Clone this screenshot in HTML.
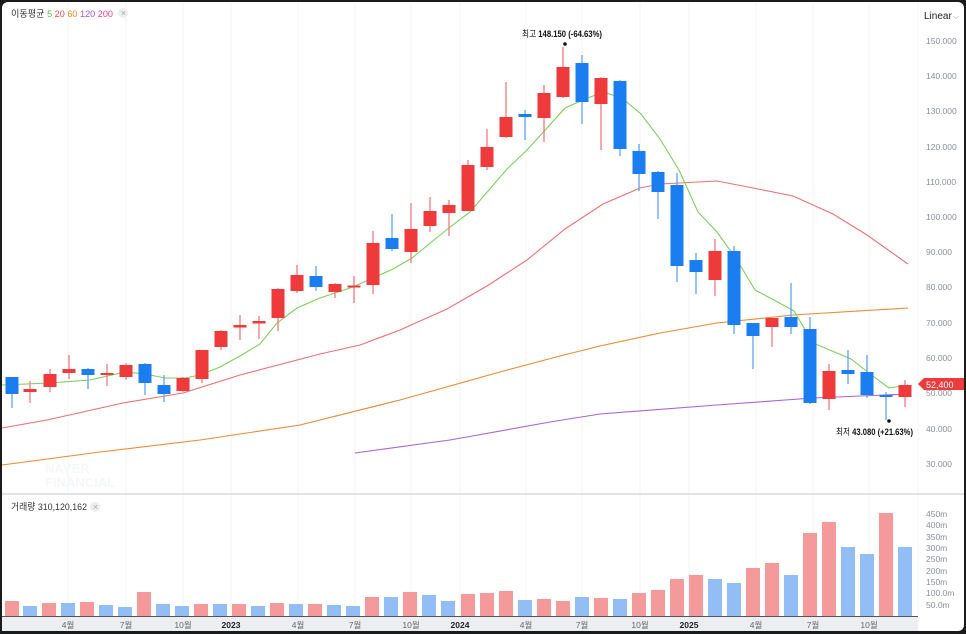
<!DOCTYPE html>
<html><head><meta charset="utf-8"><style>
html,body{margin:0;padding:0;background:#1b1b1b;width:966px;height:634px;overflow:hidden}
svg{display:block}
text{font-family:"Liberation Sans","Noto Sans CJK KR",sans-serif}
</style></head><body>
<svg width="966" height="634" viewBox="0 0 966 634" xmlns="http://www.w3.org/2000/svg">
<rect x="2" y="2" width="962" height="629" rx="6" fill="#fff"/>
<rect x="2" y="617" width="916" height="14" fill="#eceef1"/>
<g stroke="#f2f3f5" stroke-width="1">
<line x1="68" y1="2" x2="68" y2="617"/><line x1="126" y1="2" x2="126" y2="617"/><line x1="183" y1="2" x2="183" y2="617"/><line x1="231" y1="2" x2="231" y2="617"/><line x1="298" y1="2" x2="298" y2="617"/><line x1="355" y1="2" x2="355" y2="617"/><line x1="411" y1="2" x2="411" y2="617"/><line x1="460" y1="2" x2="460" y2="617"/><line x1="526" y1="2" x2="526" y2="617"/><line x1="582" y1="2" x2="582" y2="617"/><line x1="640" y1="2" x2="640" y2="617"/><line x1="689" y1="2" x2="689" y2="617"/><line x1="756" y1="2" x2="756" y2="617"/><line x1="813" y1="2" x2="813" y2="617"/><line x1="869" y1="2" x2="869" y2="617"/>
<line x1="918" y1="2" x2="918" y2="631"/>
</g>
<line x1="2" y1="494" x2="964" y2="494" stroke="#d8dadf" stroke-width="1.5"/>
<line x1="2" y1="616.5" x2="918" y2="616.5" stroke="#555" stroke-width="1"/>
<text x="45" y="473" font-size="13" font-weight="bold" fill="#f6f7f8">NAVER</text>
<text x="45" y="487" font-size="13" font-weight="bold" fill="#f6f7f8">FINANCIAL</text>
<!-- legend -->
<text x="11" y="17" font-size="9.5" fill="#333" textLength="102" lengthAdjust="spacingAndGlyphs">이동평균 <tspan fill="#5cbf3a">5</tspan> <tspan fill="#ef4a4a">20</tspan> <tspan fill="#f08a20">60</tspan> <tspan fill="#9a5ad8">120</tspan> <tspan fill="#e8407a">200</tspan></text>
<circle cx="123" cy="13" r="5" fill="#eee"/><text x="120.5" y="15.5" font-size="7" fill="#aaa">✕</text>
<text x="924" y="19" font-size="10" fill="#222">Linear</text><text x="953" y="19" font-size="8" fill="#999">⌵</text>
<text x="11" y="510" font-size="9.5" fill="#333" textLength="76" lengthAdjust="spacingAndGlyphs">거래량 310,120,162</text>
<circle cx="95" cy="507" r="5" fill="#eee"/><text x="92.5" y="509.5" font-size="7" fill="#aaa">✕</text>
<!-- axis labels -->
<g font-size="8.5" fill="#8a8f99">
<text x="926" y="44">150.000</text><text x="926" y="79">140.000</text><text x="926" y="114">130.000</text><text x="926" y="150">120.000</text><text x="926" y="185">110.000</text><text x="926" y="220">100.000</text><text x="926" y="255">90.000</text><text x="926" y="290">80.000</text><text x="926" y="326">70.000</text><text x="926" y="361">60.000</text><text x="926" y="396">50.000</text><text x="926" y="432">40.000</text><text x="926" y="467">30.000</text>
<text x="926" y="517">450m</text><text x="926" y="528">400m</text><text x="926" y="540">350m</text><text x="926" y="551">300m</text><text x="926" y="562">250m</text><text x="926" y="574">200m</text><text x="926" y="585">150m</text><text x="926" y="596">100.0m</text><text x="926" y="608">50.0m</text>
</g>
<g font-size="8.5" fill="#666" text-anchor="middle">
<text x="68" y="628">4월</text><text x="126" y="628">7월</text><text x="183" y="628">10월</text><text x="231" y="628" fill="#222" font-weight="bold">2023</text><text x="298" y="628">4월</text><text x="355" y="628">7월</text><text x="411" y="628">10월</text><text x="460" y="628" fill="#222" font-weight="bold">2024</text><text x="526" y="628">4월</text><text x="582" y="628">7월</text><text x="640" y="628">10월</text><text x="689" y="628" fill="#222" font-weight="bold">2025</text><text x="756" y="628">4월</text><text x="813" y="628">7월</text><text x="869" y="628">10월</text>
</g>
<!-- volume -->
<g fill="#f49a9a">
<rect x="5" y="601" width="14" height="15"/><rect x="42" y="603" width="14" height="13"/><rect x="80" y="602" width="14" height="14"/><rect x="137" y="592" width="14" height="24"/><rect x="194" y="604" width="14" height="12"/><rect x="232" y="604" width="14" height="12"/><rect x="270" y="603" width="14" height="13"/><rect x="308" y="604" width="14" height="12"/><rect x="365" y="597" width="14" height="19"/><rect x="403" y="592" width="14" height="24"/><rect x="461" y="594" width="14" height="22"/><rect x="480" y="593" width="14" height="23"/><rect x="499" y="591" width="14" height="25"/><rect x="537" y="599" width="14" height="17"/><rect x="556" y="601" width="14" height="15"/><rect x="594" y="598" width="14" height="18"/><rect x="632" y="593" width="14" height="23"/><rect x="651" y="590" width="14" height="26"/><rect x="670" y="579" width="14" height="37"/><rect x="689" y="575" width="14" height="41"/><rect x="746" y="568" width="14" height="48"/><rect x="765" y="563" width="14" height="53"/><rect x="803" y="533" width="14" height="83"/><rect x="822" y="522" width="14" height="94"/><rect x="879" y="513" width="14" height="103"/>
</g>
<g fill="#93bdf5">
<rect x="23" y="606" width="14" height="10"/><rect x="61" y="603" width="14" height="13"/><rect x="99" y="605" width="14" height="11"/><rect x="118" y="607" width="14" height="9"/><rect x="156" y="604" width="14" height="12"/><rect x="175" y="606" width="14" height="10"/><rect x="213" y="604" width="14" height="12"/><rect x="251" y="606" width="14" height="10"/><rect x="289" y="604" width="14" height="12"/><rect x="327" y="605" width="14" height="11"/><rect x="346" y="606" width="14" height="10"/><rect x="384" y="597" width="14" height="19"/><rect x="422" y="595" width="14" height="21"/><rect x="441" y="601" width="14" height="15"/><rect x="518" y="600" width="14" height="16"/><rect x="575" y="597" width="14" height="19"/><rect x="613" y="599" width="14" height="17"/><rect x="708" y="579" width="14" height="37"/><rect x="727" y="583" width="14" height="33"/><rect x="784" y="575" width="14" height="41"/><rect x="841" y="547" width="14" height="69"/><rect x="860" y="554" width="14" height="62"/><rect x="898" y="547" width="14" height="69"/>
</g>
<!-- MAs -->
<g fill="none" stroke-width="1.1">
<polyline stroke="#f08a30" points="2,465 100,452 200,440 300,425 400,400 500,372 560,356 600,346 660,333 717,323 793,315 908,308"/>
<polyline stroke="#a864d8" points="355,453 450,440 550,422 600,414 717,405 813,398 908,394"/>
<polyline stroke="#f07070" points="2,428 47,420 123,403 183,393 240,375 320,354 360,345 400,330 447,309 487,286 527,260 565,229 603,204 640,188 660,184 717,181 753,188 793,196 833,214 867,235 908,264"/>
<polyline stroke="#7ccf5c" points="2,385 50,383 90,380 125,372 145,374 165,378 185,378 200,375 220,367 240,356 260,344 277,323 297,308 320,298 353,287 393,269 412,258 450,227 470,212 507,169 527,150 547,128 565,108 583,100 603,92 622,98 641,114 660,139 679,170 698,212 717,232 737,260 755,290 774,300 794,311 813,343 832,351 851,359 869,373 889,388 908,385"/>
</g>
<!-- candles: red -->
<g stroke="#f07a7c" stroke-width="1.3">
<line x1="30" y1="381" x2="30" y2="403"/><line x1="50" y1="369" x2="50" y2="392"/><line x1="69" y1="355" x2="69" y2="379"/><line x1="107" y1="364" x2="107" y2="386"/><line x1="126" y1="363" x2="126" y2="380"/><line x1="183" y1="377" x2="183" y2="392"/><line x1="202" y1="350" x2="202" y2="383"/><line x1="221" y1="330" x2="221" y2="350"/><line x1="240" y1="315" x2="240" y2="340"/><line x1="259" y1="316" x2="259" y2="339"/><line x1="278" y1="288" x2="278" y2="331"/><line x1="297" y1="265" x2="297" y2="293"/><line x1="335" y1="283" x2="335" y2="298"/><line x1="354" y1="276" x2="354" y2="303"/><line x1="373" y1="231" x2="373" y2="294"/><line x1="411" y1="203" x2="411" y2="263"/><line x1="430" y1="197" x2="430" y2="232"/><line x1="449" y1="200" x2="449" y2="236"/><line x1="468" y1="160" x2="468" y2="211"/><line x1="487" y1="129" x2="487" y2="170"/><line x1="506" y1="82" x2="506" y2="138"/><line x1="544" y1="85" x2="544" y2="142"/><line x1="563" y1="47" x2="563" y2="98"/><line x1="601" y1="77" x2="601" y2="150"/><line x1="715" y1="239" x2="715" y2="296"/><line x1="772" y1="318" x2="772" y2="347"/><line x1="829" y1="364" x2="829" y2="410"/><line x1="905" y1="380" x2="905" y2="407"/>
</g>
<g fill="#ef3a3c">
<rect x="23.5" y="389" width="13" height="3"/><rect x="43.5" y="374" width="13" height="13"/><rect x="62.5" y="369" width="13" height="4"/><rect x="100.5" y="373" width="13" height="2"/><rect x="119.5" y="365" width="13" height="12"/><rect x="176.5" y="378" width="13" height="13"/><rect x="195.5" y="350" width="13" height="29"/><rect x="214.5" y="331" width="13" height="16"/><rect x="233.5" y="325" width="13" height="2.5"/><rect x="252.5" y="321" width="13" height="2.5"/><rect x="271.5" y="289" width="13" height="29"/><rect x="290.5" y="275" width="13" height="16"/><rect x="328.5" y="284" width="13" height="8"/><rect x="347.5" y="285.5" width="13" height="2"/><rect x="366.5" y="243" width="13" height="42"/><rect x="404.5" y="229" width="13" height="23"/><rect x="423.5" y="211" width="13" height="15"/><rect x="442.5" y="205" width="13" height="8"/><rect x="461.5" y="165" width="13" height="46"/><rect x="480.5" y="147" width="13" height="20"/><rect x="499.5" y="117" width="13" height="20"/><rect x="537.5" y="93" width="13" height="25"/><rect x="556.5" y="67" width="13" height="30"/><rect x="594.5" y="78" width="13" height="26"/><rect x="708.5" y="251" width="13" height="29"/><rect x="765.5" y="318" width="13" height="9"/><rect x="822.5" y="371" width="13" height="28"/><rect x="898.5" y="385" width="13" height="12"/>
</g>
<!-- candles: blue -->
<g stroke="#5ea4f2" stroke-width="1.3">
<line x1="12" y1="377" x2="12" y2="408"/><line x1="88" y1="368" x2="88" y2="389"/><line x1="145" y1="363" x2="145" y2="395"/><line x1="164" y1="375" x2="164" y2="402"/><line x1="316" y1="266" x2="316" y2="291"/><line x1="392" y1="214" x2="392" y2="251"/><line x1="525" y1="110" x2="525" y2="140"/><line x1="582" y1="55" x2="582" y2="124"/><line x1="620" y1="80" x2="620" y2="156"/><line x1="639" y1="144" x2="639" y2="191"/><line x1="658" y1="171" x2="658" y2="219"/><line x1="677" y1="173" x2="677" y2="282"/><line x1="696" y1="253" x2="696" y2="294"/><line x1="734" y1="246" x2="734" y2="334"/><line x1="753" y1="323" x2="753" y2="369"/><line x1="791" y1="283" x2="791" y2="334"/><line x1="810" y1="317" x2="810" y2="404"/><line x1="848" y1="350" x2="848" y2="384"/><line x1="867" y1="355" x2="867" y2="398"/><line x1="886" y1="392" x2="886" y2="420"/>
</g>
<g fill="#1a7ef0">
<rect x="5.5" y="377" width="13" height="17"/><rect x="81.5" y="369" width="13" height="6"/><rect x="138.5" y="364" width="13" height="19"/><rect x="157.5" y="385" width="13" height="9"/><rect x="309.5" y="276" width="13" height="11"/><rect x="385.5" y="238" width="13" height="11"/><rect x="518.5" y="114" width="13" height="3"/><rect x="575.5" y="63" width="13" height="39"/><rect x="613.5" y="81" width="13" height="68"/><rect x="632.5" y="151" width="13" height="23"/><rect x="651.5" y="172" width="13" height="20"/><rect x="670.5" y="185" width="13" height="81"/><rect x="689.5" y="260" width="13" height="12"/><rect x="727.5" y="251" width="13" height="74"/><rect x="746.5" y="323" width="13" height="13"/><rect x="784.5" y="317" width="13" height="10"/><rect x="803.5" y="329" width="13" height="74"/><rect x="841.5" y="370" width="13" height="4"/><rect x="860.5" y="372" width="13" height="23"/><rect x="879.5" y="395" width="13" height="2"/>
</g>
<!-- hi/lo annotations -->
<circle cx="565" cy="44" r="1.8" fill="#111"/>
<text x="522" y="37" font-size="9" fill="#111" font-family="Liberation Serif,'Noto Serif CJK SC',serif" textLength="80" lengthAdjust="spacingAndGlyphs">최고 <tspan font-weight="bold">148.150 (-64.63%)</tspan></text>
<circle cx="889" cy="421" r="1.8" fill="#111"/>
<text x="836" y="435" font-size="9" fill="#111" font-family="Liberation Serif,'Noto Serif CJK SC',serif" textLength="77" lengthAdjust="spacingAndGlyphs">최저 <tspan font-weight="bold">43.080 (+21.63%)</tspan></text>
<!-- price tag -->
<polygon points="918,384 924,378 964,378 964,390 924,390" fill="#ef3a3c"/>
<text x="926" y="388" font-size="9" fill="#fff">52,400</text>
</svg>
</body></html>
